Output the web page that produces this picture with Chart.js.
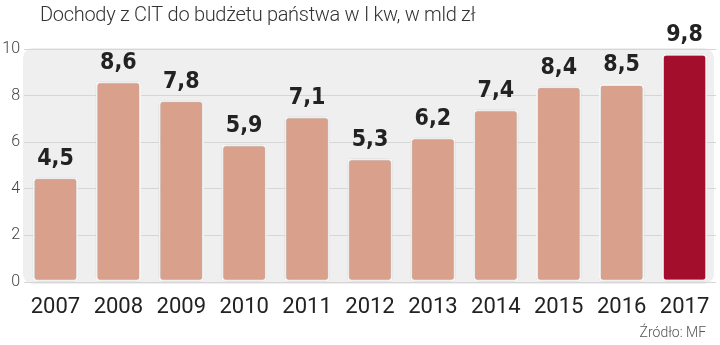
<!DOCTYPE html>
<html>
<head>
    <title>Dochody z CIT</title>
    <script src="https://cdn.jsdelivr.net/npm/chart.js"></script>
    <style>
        html, body { margin: 0; padding: 0; background: #fff; }
        #cit_chart { display: block; }
    </style>
</head>
<body>

<canvas id="cit_chart" width="720" height="345"></canvas>

<script>
const years = ['2007', '2008', '2009', '2010', '2011', '2012', '2013', '2014', '2015', '2016', '2017'];
const citIncome = [4.5, 8.6, 7.8, 5.9, 7.1, 5.3, 6.2, 7.4, 8.4, 8.5, 9.8];
const yTicks = [0, 2, 4, 6, 8, 10];
const titleText = 'Dochody z CIT do budżetu państwa w I kw, w mld zł';
const sourceText = 'Źródło: MF';

const barColors = years.map((y, i) => i === years.length - 1 ? '#a30e2c' : '#d9a08b');

// grey rounded panel behind the plot + title and source
const panelPlugin = {
    id: 'panel',
    beforeDraw(chart) {
        const { ctx, chartArea } = chart;
        ctx.save();
        ctx.fillStyle = '#efeff0';
        ctx.beginPath();
        ctx.roundRect(chartArea.left - 1, chartArea.top - 1, chartArea.right - chartArea.left - 1, chartArea.bottom - chartArea.top + 3, 10);
        ctx.fill();

        ctx.fillStyle = '#333';
        ctx.font = '300 20px Roboto';
        ctx.letterSpacing = '-0.3px';
        ctx.textBaseline = 'middle';
        ctx.textAlign = 'left';
        ctx.fillText(titleText, 40, 16);

        ctx.letterSpacing = '0px';
        ctx.fillStyle = '#555';
        ctx.font = '300 14px Roboto';
        ctx.textAlign = 'right';
        ctx.fillText(sourceText, 706, 333);
        ctx.restore();
    }
};

// soft shadow under the bars
const shadowPlugin = {
    id: 'barShadow',
    beforeDatasetsDraw(chart) {
        const ctx = chart.ctx;
        ctx.save();
        ctx.shadowColor = 'rgba(0,0,0,0.25)';
        ctx.shadowBlur = 3;
    },
    afterDatasetsDraw(chart) {
        chart.ctx.restore();
    }
};

// value labels above each bar
const valueLabels = {
    id: 'valueLabels',
    afterDatasetsDraw(chart) {
        const { ctx } = chart;
        const meta = chart.getDatasetMeta(0);
        ctx.save();
        ctx.fillStyle = '#222';
        ctx.font = 'bold 23px "DejaVu Sans Condensed", "DejaVu Sans"';
        ctx.textAlign = 'center';
        ctx.textBaseline = 'bottom';
        meta.data.forEach((bar, i) => {
            const txt = citIncome[i].toFixed(1).replace('.', ',');
            ctx.fillText(txt, bar.x, bar.y - 7);
        });
        ctx.restore();
    }
};

const ctx = document.getElementById('cit_chart').getContext('2d');

new Chart(ctx, {
    type: 'bar',
    data: {
        labels: years,
        datasets: [{
            data: citIncome,
            backgroundColor: barColors,
            borderColor: '#ffffff',
            borderWidth: 2,
            borderRadius: 4,
            borderSkipped: false,
            barPercentage: 0.72,
            categoryPercentage: 1.0
        }]
    },
    options: {
        responsive: false,
        animation: false,
        layout: {
            padding: { top: 49, right: 4, left: 0, bottom: 0 }
        },
        scales: {
            x: {
                grid: { display: false },
                border: { display: false },
                ticks: {
                    color: '#222',
                    padding: 4,
                    font: { family: 'Roboto', size: 22, weight: 400 }
                },
                afterFit(scale) { scale.height = 63; }
            },
            y: {
                min: 0,
                max: 10,
                afterBuildTicks(scale) {
                    scale.ticks = yTicks.map(v => ({ value: v }));
                },
                grid: { color: '#d6d6d6', lineWidth: 1, drawTicks: false },
                border: { display: false },
                ticks: {
                    color: '#444',
                    padding: 4,
                    font: { family: 'Roboto', size: 16, weight: 300 }
                },
                afterFit(scale) { scale.width = 24; }
            }
        },
        plugins: {
            legend: { display: false },
            tooltip: { enabled: false }
        }
    },
    plugins: [panelPlugin, shadowPlugin, valueLabels]
});
</script>

</body>
</html>
